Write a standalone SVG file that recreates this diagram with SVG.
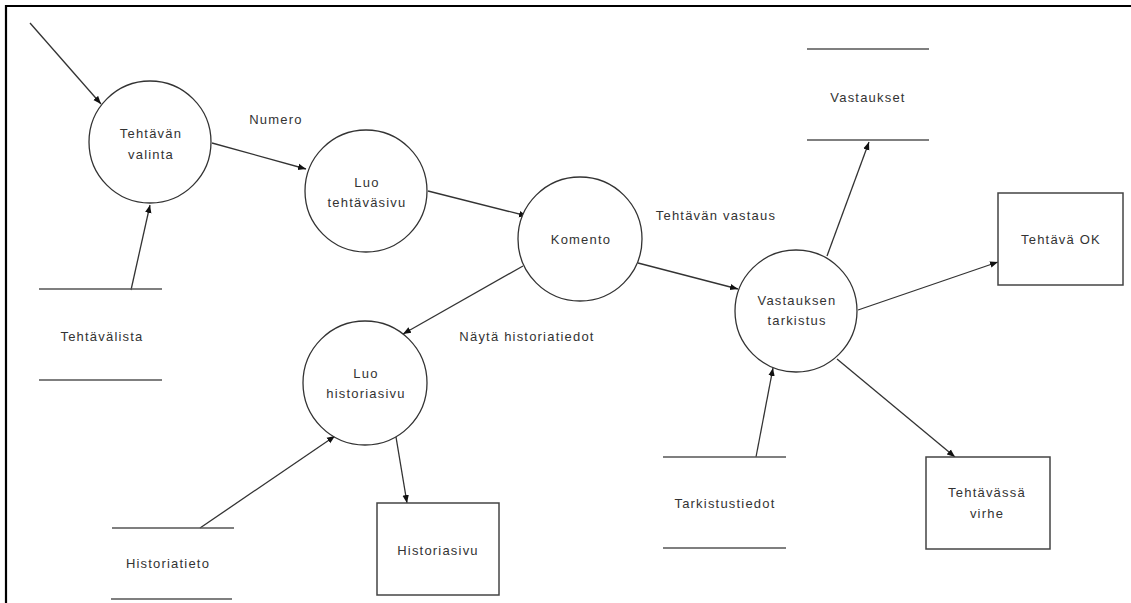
<svg xmlns="http://www.w3.org/2000/svg" width="1131" height="603" viewBox="0 0 1131 603">
  <style>
    .frame { stroke: #000; stroke-width: 2.2; fill: none; }
    .proc { fill: #fff; stroke: #333; stroke-width: 1.3; }
    .ext { fill: #fff; stroke: #444; stroke-width: 1.5; }
    .store { stroke: #555; stroke-width: 1.6; }
    .flow { stroke: #333; stroke-width: 1.3; fill: none; marker-end: url(#arrow); }
    text { font-family: "Liberation Sans", Arial, sans-serif; font-size: 13px; fill: #333; text-anchor: middle; letter-spacing: 1.2px; }
  </style>
  <defs>
    <marker id="arrow" markerUnits="userSpaceOnUse" markerWidth="8" markerHeight="8" viewBox="0 0 8 8" refX="8" refY="4" orient="auto">
      <path d="M0,0.8 L8,4 L0,7.2 Z" fill="#111"/>
    </marker>
  </defs>
  <rect width="1131" height="603" fill="#fff"/>

  <!-- page frame (top and left edges only) -->
  <path class="frame" d="M5,6 H1131 M6,5 V603"/>

  <!-- data flows -->
  <g id="connectors">
    <line class="flow" x1="30" y1="23" x2="101" y2="104"/>
    <line class="flow" x1="131" y1="290" x2="150" y2="205"/>
    <line class="flow" x1="212" y1="143" x2="306" y2="169"/>
    <line class="flow" x1="428" y1="191" x2="527" y2="216"/>
    <line class="flow" x1="523" y1="266" x2="403" y2="334"/>
    <line class="flow" x1="638" y1="263" x2="738" y2="289"/>
    <line class="flow" x1="827" y1="256" x2="869" y2="142"/>
    <line class="flow" x1="858" y1="310" x2="998" y2="262"/>
    <line class="flow" x1="837" y1="359" x2="955" y2="457"/>
    <line class="flow" x1="756" y1="457" x2="773" y2="368"/>
    <line class="flow" x1="200" y1="528" x2="335" y2="436"/>
    <line class="flow" x1="396" y1="437" x2="407" y2="503"/>
    <text x="276" y="124">Numero</text>
    <text x="716" y="220">Tehtävän vastaus</text>
    <text x="527" y="341">Näytä historiatiedot</text>
  </g>

  <!-- processes -->
  <g id="tehtavan-valinta">
    <circle class="proc" cx="150" cy="142" r="61"/>
    <text x="151" y="138">Tehtävän</text>
    <text x="151" y="159">valinta</text>
  </g>
  <g id="luo-tehtavasivu">
    <circle class="proc" cx="366" cy="191" r="61"/>
    <text x="367" y="187">Luo</text>
    <text x="367" y="207">tehtäväsivu</text>
  </g>
  <g id="komento">
    <circle class="proc" cx="580" cy="239" r="62"/>
    <text x="581" y="244">Komento</text>
  </g>
  <g id="vastauksen-tarkistus">
    <circle class="proc" cx="796" cy="311" r="61"/>
    <text x="797" y="305">Vastauksen</text>
    <text x="797" y="325">tarkistus</text>
  </g>
  <g id="luo-historiasivu">
    <circle class="proc" cx="365" cy="383" r="62"/>
    <text x="366" y="378">Luo</text>
    <text x="366" y="398">historiasivu</text>
  </g>

  <!-- data stores -->
  <g id="tehtavalista">
    <line class="store" x1="39" y1="289" x2="162" y2="289"/>
    <line class="store" x1="39" y1="380" x2="162" y2="380"/>
    <text x="102" y="341">Tehtävälista</text>
  </g>
  <g id="historiatieto">
    <line class="store" x1="112" y1="528" x2="234" y2="528"/>
    <line class="store" x1="111" y1="599" x2="232" y2="599"/>
    <text x="168" y="568">Historiatieto</text>
  </g>
  <g id="vastaukset">
    <line class="store" x1="807" y1="49" x2="929" y2="49"/>
    <line class="store" x1="807" y1="140" x2="929" y2="140"/>
    <text x="868" y="102">Vastaukset</text>
  </g>
  <g id="tarkistustiedot">
    <line class="store" x1="663" y1="457" x2="786" y2="457"/>
    <line class="store" x1="663" y1="548" x2="786" y2="548"/>
    <text x="725" y="508">Tarkistustiedot</text>
  </g>

  <!-- external entities -->
  <g id="tehtava-ok">
    <rect class="ext" x="998" y="193" width="125" height="92"/>
    <text x="1061" y="244">Tehtävä OK</text>
  </g>
  <g id="historiasivu">
    <rect class="ext" x="377" y="503" width="122" height="92"/>
    <text x="438" y="555">Historiasivu</text>
  </g>
  <g id="tehtavassa-virhe">
    <rect class="ext" x="926" y="457" width="124" height="92"/>
    <text x="987" y="497">Tehtävässä</text>
    <text x="987" y="518">virhe</text>
  </g>
</svg>
